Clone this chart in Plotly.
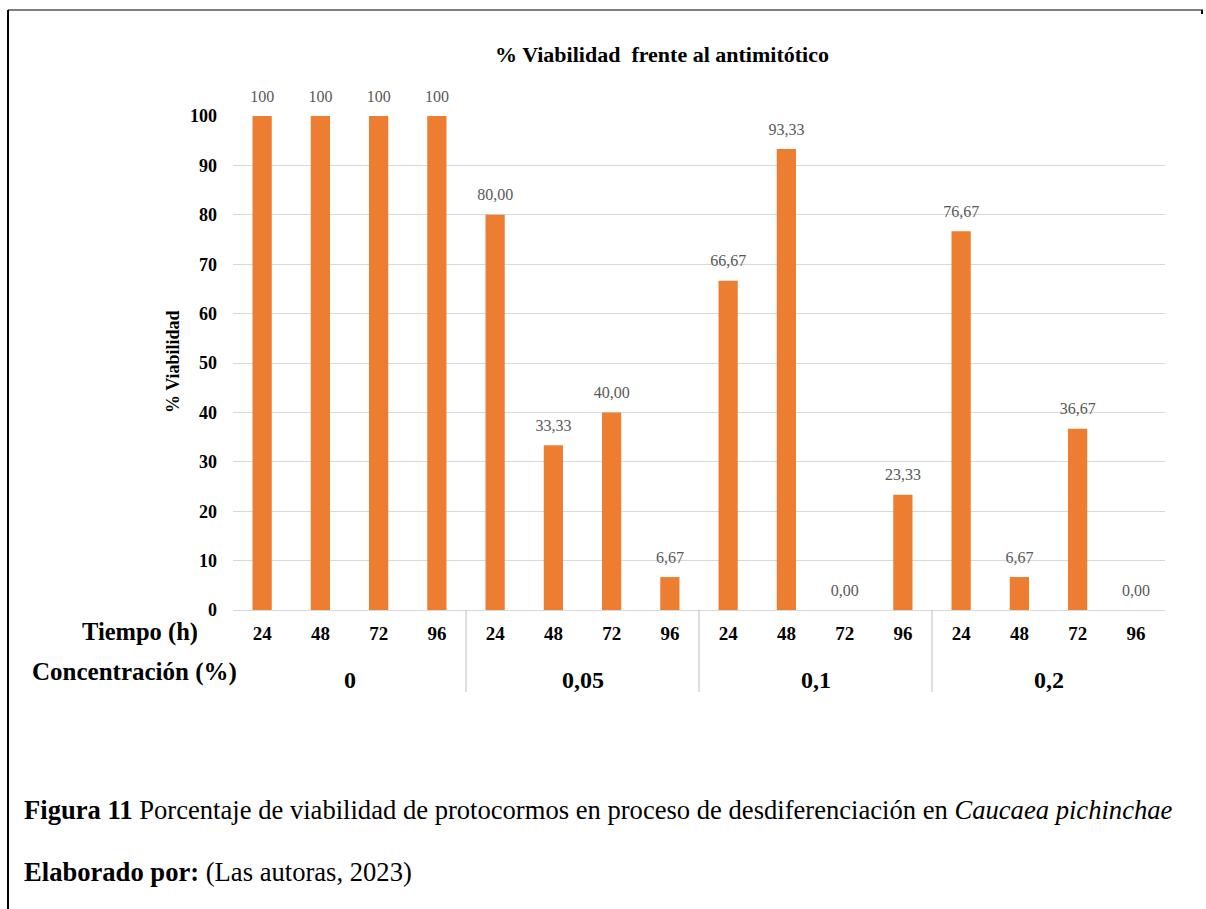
import plotly.graph_objects as go

# Data: viability (%) per time (h) within each antimitotic concentration (%)
concentraciones = ["0", "0,05", "0,1", "0,2"]
tiempos = ["24", "48", "72", "96"]
viabilidad = [100, 100, 100, 100,
              80.00, 33.33, 40.00, 6.67,
              66.67, 93.33, 0.00, 23.33,
              76.67, 6.67, 36.67, 0.00]

n_t = len(tiempos)
x_pos = list(range(len(viabilidad)))
tick_text = tiempos * len(concentraciones)

# Label text: whole numbers for the control group, two decimals (comma) otherwise
etiquetas = [str(int(v)) if i < n_t else f"{v:.2f}".replace(".", ",")
             for i, v in enumerate(viabilidad)]

SERIF = "Liberation Serif"
ORANGE = "#ED7D31"

# Plot-area geometry in pixels (used to place decorations in paper coords)
W, H = 1206, 909
L, R, T, B = 233, 41, 116, 299
PW, PH = W - L - R, H - T - B


def px_x(px):
    return (px - L) / PW


def px_y(py):
    return (H - B - py) / PH


fig = go.Figure()
fig.add_trace(go.Bar(
    x=x_pos, y=viabilidad, marker=dict(color=ORANGE, line=dict(width=0)),
    width=0.33, hoverinfo="y", showlegend=False,
))
# Value labels above each bar (an invisible marker sets the gap)
fig.add_trace(go.Scatter(
    x=x_pos, y=viabilidad, mode="markers+text", text=etiquetas,
    textposition="top center",
    marker=dict(size=15, color="rgba(0,0,0,0)"),
    textfont=dict(family=SERIF, size=16, color="#595959"),
    showlegend=False, hoverinfo="skip", cliponaxis=False,
))

annotations = []
# Concentration group labels
for g, c in enumerate(concentraciones):
    annotations.append(dict(
        x=g * n_t + (n_t - 1) / 2, xref="x", y=px_y(680), yref="paper",
        text=c, showarrow=False, xanchor="center", yanchor="middle",
        font=dict(family=SERIF, size=24, color="black", weight="bold"),
    ))
# Row headers of the category axis
annotations.append(dict(
    x=px_x(140), xref="paper", y=px_y(632), yref="paper",
    text="Tiempo (h)", showarrow=False, xanchor="center", yanchor="middle",
    font=dict(family=SERIF, size=24.5, color="black", weight="bold"),
))
annotations.append(dict(
    x=px_x(134), xref="paper", y=px_y(672), yref="paper",
    text="Concentración (%)", showarrow=False, xanchor="center",
    yanchor="middle",
    font=dict(family=SERIF, size=25, color="black", weight="bold"),
))
# Y axis title
annotations.append(dict(
    x=px_x(173), xref="paper", y=px_y(362), yref="paper",
    text="% Viabilidad", showarrow=False, textangle=-90,
    xanchor="center", yanchor="middle",
    font=dict(family=SERIF, size=18, color="black", weight="bold"),
))
# Caption lines
annotations.append(dict(
    x=px_x(22), xref="paper", y=px_y(810), yref="paper",
    xanchor="left", yanchor="middle", showarrow=False, align="left",
    text="<b>Figura 11</b> Porcentaje de viabilidad de protocormos en proceso de "
         "desdiferenciación en <i>Caucaea pichinchae</i>",
    font=dict(family=SERIF, size=26.6, color="black"),
))
annotations.append(dict(
    x=px_x(22), xref="paper", y=px_y(872), yref="paper",
    xanchor="left", yanchor="middle", showarrow=False, align="left",
    text="<b>Elaborado por:</b> (Las autoras, 2023)",
    font=dict(family=SERIF, size=26.6, color="black"),
))

shapes = []
# Group separators below the axis
for g in range(1, len(concentraciones)):
    xb = g * n_t - 0.5
    shapes.append(dict(type="line", xref="x", yref="paper",
                       x0=xb, x1=xb, y0=0, y1=px_y(692),
                       line=dict(color="#bfbfbf", width=1)))
# Page frame (left and top edges)
shapes.append(dict(type="line", xref="paper", yref="paper",
                   x0=px_x(8), x1=px_x(8), y0=px_y(10), y1=px_y(912),
                   line=dict(color="black", width=2)))
shapes.append(dict(type="line", xref="paper", yref="paper",
                   x0=px_x(8), x1=px_x(1203), y0=px_y(10), y1=px_y(10),
                   line=dict(color="black", width=1)))
shapes.append(dict(type="line", xref="paper", yref="paper",
                   x0=px_x(1202), x1=px_x(1202), y0=px_y(10), y1=px_y(14),
                   line=dict(color="black", width=2)))

fig.update_layout(
    width=W, height=H,
    margin=dict(l=L, r=R, t=T, b=B, autoexpand=False),
    paper_bgcolor="white", plot_bgcolor="white",
    title=dict(text="% Viabilidad  frente al antimitótico",
               x=662 / W, xanchor="center",
               y=1 - 54 / H, yanchor="middle",
               font=dict(family=SERIF, size=22, color="black", weight="bold")),
    xaxis=dict(
        range=[-0.5, len(viabilidad) - 0.5],
        tickvals=x_pos, ticktext=tick_text, showgrid=False,
        showline=True, linecolor="#d9d9d9", linewidth=1,
        ticks="", ticklabelstandoff=6,
        tickfont=dict(family=SERIF, size=19, color="black", weight="bold"),
        zeroline=False, fixedrange=True,
    ),
    yaxis=dict(
        range=[0, 100], tickvals=list(range(0, 101, 10)),
        showgrid=True, gridcolor="#d9d9d9", gridwidth=1,
        zeroline=False, showline=False, ticks="",
        ticklabelstandoff=15,
        tickfont=dict(family=SERIF, size=18, color="black", weight="bold"),
        fixedrange=True,
    ),
    annotations=annotations, shapes=shapes,
)

fig.write_html("out.html")
